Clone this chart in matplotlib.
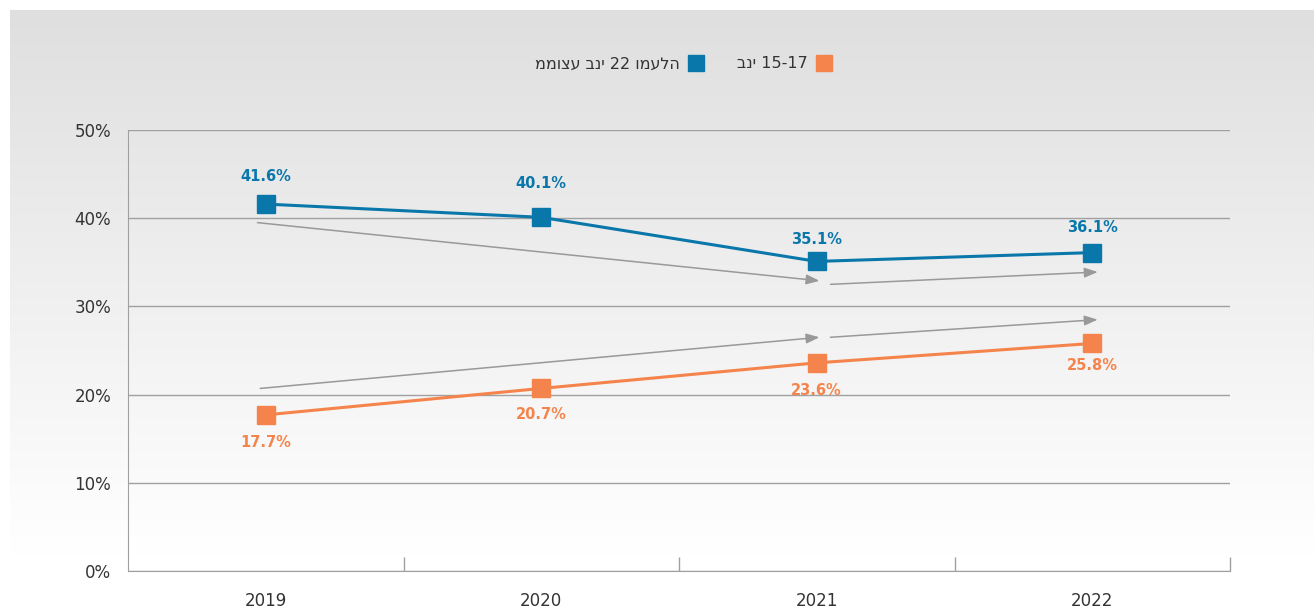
import numpy as np
import matplotlib.pyplot as plt
from matplotlib.lines import Line2D

plt.rcParams['font.family'] = ['DejaVu Sans']

years = ["2019", "2020", "2021", "2022"]
adults = [41.6, 40.1, 35.1, 36.1]
teens = [17.7, 20.7, 23.6, 25.8]

# legend texts (shown left to right, as in the original)
label_adults = "ממוצע בני 22 ומעלה"
label_teens = "בני 15-17"

# gray trend arrows (start x, start y, end x, end y)
trend_arrows = [
    (-0.03, 39.5, 2.01, 32.9),
    (2.05, 32.5, 3.02, 33.9),
    (-0.02, 20.7, 2.01, 26.5),
    (2.05, 26.5, 3.02, 28.5),
]

blue = "#0a77ab"
orange = "#f5844c"
grid_gray = "#a0a0a0"

# label offsets in points
blue_offsets = [20, 24, 16, 18]
orange_offsets = [-20, -19, -20, -16]

fig = plt.figure(figsize=(13.14, 6.14), dpi=100)
fig.patch.set_facecolor("white")

# gradient background panel
bg = fig.add_axes([10 / 1314, 0, 1 - 10 / 1314, 604 / 614], zorder=0)
grad = np.linspace(0, 1, 256).reshape(-1, 1)
shade = 223 + (255 - 223) * np.clip(grad / 0.9, 0, 1)
img = np.dstack([shade, shade, shade]) / 255.0
bg.imshow(img, aspect="auto", extent=[0, 1, 0, 1], origin="upper")
bg.axis("off")

ax = fig.add_axes([128 / 1314, 43 / 614, (1230 - 128) / 1314, (571 - 130) / 614], zorder=1)
ax.set_facecolor("none")

x = np.arange(len(years))

for sx, sy, ex, ey in trend_arrows:
    ax.annotate("", xy=(ex, ey), xytext=(sx, sy),
                arrowprops=dict(arrowstyle="-|>,head_length=0.8,head_width=0.3",
                                color="#999999", lw=1.1, shrinkA=0, shrinkB=0))

ax.plot(x, adults, color=blue, lw=2.2, marker="s", markersize=12.5, zorder=3)
ax.plot(x, teens, color=orange, lw=2.2, marker="s", markersize=12.5, zorder=3)

for xi, v, off in zip(x, adults, blue_offsets):
    ax.annotate(f"{v}%", (xi, v), xytext=(0, off), textcoords="offset points",
                ha="center", va="center", color=blue, fontsize=10.5, fontweight="bold")
for xi, v, off in zip(x, teens, orange_offsets):
    ax.annotate(f"{v}%", (xi, v), xytext=(0, off), textcoords="offset points",
                ha="center", va="center", color=orange, fontsize=10.5, fontweight="bold")

ax.set_xlim(-0.5, 3.5)
ax.set_ylim(0, 50)
ax.set_yticks(range(0, 51, 10))
ax.set_yticklabels([f"{v}%" for v in range(0, 51, 10)], fontsize=12, color="#333333")
ax.yaxis.grid(True, color=grid_gray, lw=1)
ax.set_axisbelow(True)

ax.set_xticks([0.5, 1.5, 2.5, 3.5])
ax.set_xticklabels([])
ax.tick_params(axis="x", direction="in", length=10, color=grid_gray, width=1)
ax.tick_params(axis="y", length=0, pad=12)
for i, yr in enumerate(years):
    ax.text(i, -3.4, yr, ha="center", va="center", fontsize=12, color="#333333")

for side in ["top", "right"]:
    ax.spines[side].set_visible(False)
for side in ["left", "bottom"]:
    ax.spines[side].set_color(grid_gray)

handles = [
    Line2D([], [], marker="s", color=blue, ls="none", markersize=11),
    Line2D([], [], marker="s", color=orange, ls="none", markersize=11),
]
fig.legend(handles, [label_adults, label_teens], loc="center", ncol=2,
           bbox_to_anchor=(684 / 1314, 1 - 64 / 614), frameon=False,
           markerfirst=False, fontsize=11.5, columnspacing=2.0, handletextpad=0.4,
           handlelength=1.2, labelcolor="#333333")

fig.savefig("out.png", dpi=100)
